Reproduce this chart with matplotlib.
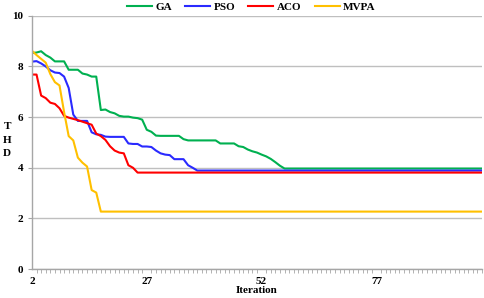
import matplotlib
matplotlib.use("Agg")
import matplotlib.pyplot as plt
from matplotlib.ticker import MultipleLocator, FixedLocator
import numpy as np

plt.rcParams['font.family'] = ['Liberation Serif', 'DejaVu Serif']
plt.rcParams['font.weight'] = 'bold'

iters = np.arange(2, 101)

ga_head = [8.53, 8.55, 8.6, 8.45, 8.35, 8.2, 8.2, 8.2, 7.87, 7.87,
           7.87, 7.72, 7.68, 7.6, 7.6, 6.28, 6.3, 6.2, 6.15, 6.05,
           6.02, 6.02, 5.98, 5.96, 5.9, 5.5, 5.42, 5.27, 5.26, 5.26,
           5.26, 5.26, 5.26, 5.13, 5.08, 5.08, 5.08, 5.08, 5.08, 5.08,
           5.08, 4.96, 4.96, 4.96, 4.96, 4.85, 4.82, 4.72, 4.65, 4.6,
           4.52, 4.45, 4.35, 4.22, 4.08]
pso_head = [8.19, 8.21, 8.12, 8.0, 7.85, 7.76, 7.74, 7.6, 7.15, 6.1,
            5.85, 5.85, 5.85, 5.4, 5.32, 5.3, 5.23, 5.22, 5.22, 5.22,
            5.22, 4.96, 4.94, 4.94, 4.84, 4.84, 4.82, 4.68, 4.57, 4.52,
            4.5, 4.34, 4.34, 4.34, 4.1, 4.0]
aco_head = [7.68, 7.68, 6.85, 6.75, 6.57, 6.52, 6.35, 6.05, 5.98, 5.93,
            5.88, 5.82, 5.76, 5.7, 5.35, 5.25, 5.1, 4.85, 4.68, 4.6,
            4.57, 4.1, 4.0]
mvpa_head = [8.62, 8.45, 8.3, 8.15, 7.7, 7.38, 7.25, 6.2, 5.25, 5.08,
             4.4, 4.2, 4.05, 3.12, 3.02]

ga = ga_head + [3.97] * (len(iters) - len(ga_head))
pso = pso_head + [3.89] * (len(iters) - len(pso_head))
aco = aco_head + [3.81] * (len(iters) - len(aco_head))
mvpa = mvpa_head + [2.27] * (len(iters) - len(mvpa_head))

fig = plt.figure(figsize=(4.84, 2.98), dpi=100)
ax = fig.add_axes([0.066, 0.097, 0.93, 0.85])

ax.plot(iters, ga, color='#00B050', lw=1.5, label='GA')
ax.plot(iters, pso, color='#2A2AFF', lw=1.5, label='PSO')
ax.plot(iters, aco, color='#FF0000', lw=1.5, label='ACO')
ax.plot(iters, mvpa, color='#FFC000', lw=1.5, label='MVPA')

ax.set_xlim(2, 100)
ax.set_ylim(0, 10)
ax.yaxis.set_major_locator(MultipleLocator(2))
ax.xaxis.set_major_locator(FixedLocator([2, 27, 52, 77]))
ax.xaxis.set_minor_locator(MultipleLocator(1))
ax.grid(axis='y', color='#BFBFBF', lw=1.0)
ax.set_axisbelow(True)

for s in ['top', 'right']:
    ax.spines[s].set_visible(False)
for s in ['left', 'bottom']:
    ax.spines[s].set_color('#A6A6A6')
    ax.spines[s].set_linewidth(1.0)

ax.tick_params(axis='x', which='major', length=0, labelsize=8, pad=6)
ax.tick_params(axis='x', which='minor', length=3, color='#A6A6A6')
ax.tick_params(axis='y', length=3, color='#A6A6A6', labelsize=8, pad=3)

ax.set_xlabel('Iteration', fontsize=8, fontweight='bold', labelpad=0)
fig.text(0.015, 0.53, 'T\nH\nD', fontsize=8, fontweight='bold',
         ha='center', va='center', linespacing=1.6)

fig.legend(loc='upper center', bbox_to_anchor=(0.519, 1.025), ncol=4,
           frameon=False, fontsize=8, handlelength=2.25, handletextpad=0.3,
           columnspacing=1.2)

fig.savefig('out.png', dpi=100)
